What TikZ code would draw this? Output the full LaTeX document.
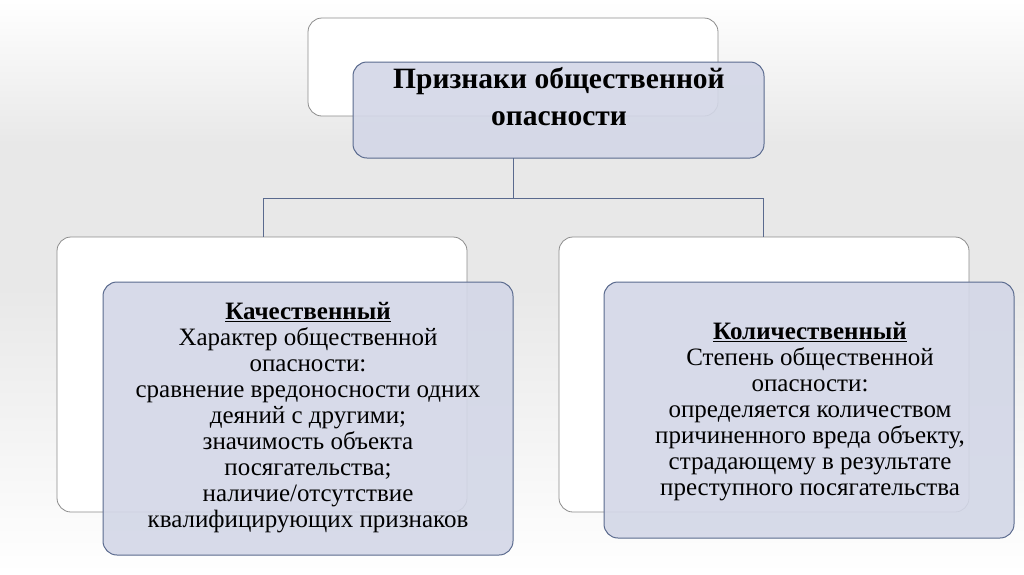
\documentclass[tikz,border=0pt]{standalone}
\usepackage{fontspec}
\setmainfont{Liberation Serif}
\definecolor{bfill}{HTML}{D3D7E7}
\definecolor{bline}{HTML}{5A6A8E}
\begin{document}
\begin{tikzpicture}[x=1pt,y=-1pt,
  wbox/.style={draw=black!45,fill=white,rounded corners=14pt,line width=0.8pt},
  bbox/.style={draw=bline,fill=bfill,fill opacity=0.9,text opacity=1,rounded corners=14pt,line width=1pt},
  txt/.style={align=center,font=\fontsize{25}{26}\selectfont},
  conn/.style={draw=bline,line width=0.8pt}]
\shade[top color=white,bottom color=black!9,middle color=black!9] (0,0) rectangle (1024,287);
\shade[top color=black!9,bottom color=white] (0,287) rectangle (1024,574);
\useasboundingbox (0,0) rectangle (1024,574);
\draw[wbox] (308,18) rectangle (718,116);
\draw[bbox] (353,62) rectangle (764,158);
\node[txt,font=\fontsize{29.5}{37}\selectfont\bfseries] (top) at (559,97) {Признаки общественной\\опасности};
\draw[wbox] (57,237) rectangle (467,512);
\draw[bbox] (103,282) rectangle (513,555);
\draw[wbox] (559,237) rectangle (969,512);
\draw[bbox] (604,282) rectangle (1014,538);
\coordinate (t) at (513,158);
\coordinate (m) at (513,198);
\coordinate (l) at (263,198);
\coordinate (r) at (763,198);
\coordinate (lb) at (263,237);
\coordinate (rb) at (763,237);
\draw[conn] (t) -- (m) (l) -- (r) (l) -- (lb) (r) -- (rb);
\node[txt] (left) at (308,418) {\textbf{\underline{Качественный}}\\Характер общественной\\опасности:\\сравнение вредоносности одних\\деяний с другими;\\значимость объекта\\посягательства;\\наличие/отсутствие\\квалифицирующих признаков};
\node[txt] (right) at (810,412) {\textbf{\underline{Количественный}}\\Степень общественной\\опасности:\\определяется количеством\\причиненного вреда объекту,\\страдающему в результате\\преступного посягательства};
\end{tikzpicture}
\end{document}
